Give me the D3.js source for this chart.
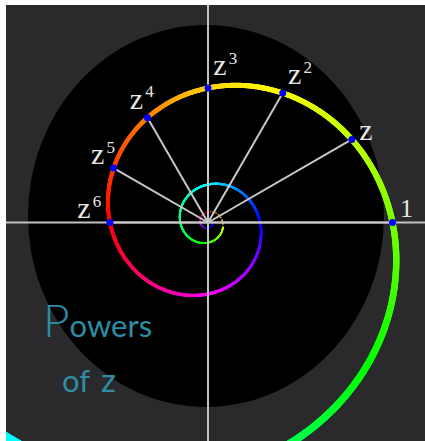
<!DOCTYPE html>
<html>
<head>
<meta charset="utf-8">
<script src="https://cdn.jsdelivr.net/npm/d3@7"></script>
<style>
  html, body { margin: 0; padding: 0; background: #fff; overflow: hidden; }
</style>
</head>
<body>
<script>
const W = 425, H = 441;

// z = 0.9 * e^(i * 30deg), powers z^0 .. z^6
const zModulus = 0.9;
const zAngleDeg = 30;
const powers = [0, 1, 2, 3, 4, 5, 6];
const baseLabels = ['1', 'z', 'z', 'z', 'z', 'z', 'z'];
const supLabels = ['', '', '2', '3', '4', '5', '6'];

// exponent range for the continuous spiral z^t, then a dotted tail
const spiralRange = [-4.8, 23.4];
const tailRange = [23.4, 36];
// colour along the spiral (exponent t -> hue)
const hueStopsT = [-4.5, -2.3, 0, 1, 2, 3, 4, 5, 6, 9, 11, 12, 15, 18, 21, 23, 27, 30, 33];
const hueStops  = [182, 138, 92, 75, 62, 50, 30, 14, 0, -58, -95, -120, -178, -212, -245, -280, -350, -420, -480];

const titleWords = ['P', 'owers', 'of', 'z'];

// label nudges (centre of glyph relative to the point), layout only
const labelOffset = [[14,-14],[14,-6],[12,-16],[12,-20],[-11,-16],[-16,-11],[-26,-11]];

const svg = d3.select('body').append('svg')
  .attr('width', W).attr('height', H);

svg.append('defs').append('clipPath').attr('id', 'panel')
  .append('rect').attr('x', 6).attr('y', 5).attr('width', W - 6).attr('height', H - 5);

const g = svg.append('g').attr('clip-path', 'url(#panel)');

g.append('rect')
  .attr('x', 6).attr('y', 5).attr('width', W - 6).attr('height', H - 5)
  .attr('fill', '#2a292c');

g.append('ellipse')
  .attr('cx', 206).attr('cy', 216).attr('rx', 178).attr('ry', 191)
  .attr('fill', '#000');

const unit = 184.5;
const x = d3.scaleLinear().domain([-1, 1]).range([208 - unit, 208 + unit]);
const y = d3.scaleLinear().domain([-1, 1]).range([222.5 + unit, 222.5 - unit]);

const hue = d3.scaleLinear().domain(hueStopsT).range(hueStops).clamp(true);
function colorAt(t) {
  let h = hue(t) % 360;
  if (h < 0) h += 360;
  return d3.hsl(h, 1, 0.5).toString();
}

function zpow(t) {
  const r = Math.pow(zModulus, t);
  const a = t * zAngleDeg * Math.PI / 180;
  return { r: r, re: r * Math.cos(a), im: r * Math.sin(a) };
}

// spiral as short coloured segments
const step = 0.02;
const ts = d3.range(spiralRange[0], spiralRange[1], step);
g.append('g').selectAll('line')
  .data(ts)
  .enter()
  .append('line')
  .attr('x1', d => x(zpow(d).re))
  .attr('y1', d => y(zpow(d).im))
  .attr('x2', d => x(zpow(d + step).re))
  .attr('y2', d => y(zpow(d + step).im))
  .attr('stroke', d => colorAt(d))
  .attr('stroke-width', d => 1.2 + 5 * zpow(d).r)
  .attr('stroke-linecap', 'round');

// sparse dots near the centre
g.append('g').selectAll('circle')
  .data(d3.range(tailRange[0], tailRange[1], 0.45))
  .enter()
  .append('circle')
  .attr('cx', d => x(zpow(d).re))
  .attr('cy', d => y(zpow(d).im))
  .attr('r', 0.9)
  .attr('fill', d => colorAt(d));

// axes
g.append('line')
  .attr('x1', 6).attr('x2', W).attr('y1', y(0)).attr('y2', y(0))
  .attr('stroke', '#c2c2c2').attr('stroke-width', 2);
g.append('line')
  .attr('x1', x(0)).attr('x2', x(0)).attr('y1', 5).attr('y2', H)
  .attr('stroke', '#c2c2c2').attr('stroke-width', 2);

// spokes
g.append('g').selectAll('line')
  .data(powers)
  .enter()
  .append('line')
  .attr('x1', x(0)).attr('y1', y(0))
  .attr('x2', d => x(zpow(d).re))
  .attr('y2', d => y(zpow(d).im))
  .attr('stroke', '#c8c8c8')
  .attr('stroke-width', 2);

// points
g.append('g').selectAll('circle')
  .data(powers)
  .enter()
  .append('circle')
  .attr('cx', d => x(zpow(d).re))
  .attr('cy', d => y(zpow(d).im))
  .attr('r', 3.5)
  .attr('fill', '#0000ff');

// labels
const lab = g.append('g')
  .attr('font-family', '"Liberation Serif", "DejaVu Serif", serif')
  .attr('fill', '#e6e6e6');

lab.selectAll('text.base')
  .data(powers)
  .enter()
  .append('text')
  .attr('class', 'base')
  .attr('text-anchor', 'middle')
  .attr('font-size', (d, i) => i === 0 ? 26 : 30)
  .attr('x', (d, i) => x(zpow(d).re) + labelOffset[i][0])
  .attr('y', (d, i) => y(zpow(d).im) + labelOffset[i][1] + (i === 0 ? 8.8 : 6.9))
  .text((d, i) => baseLabels[i]);

lab.selectAll('text.sup')
  .data(powers.filter((d, i) => supLabels[i] !== ''))
  .enter()
  .append('text')
  .attr('class', 'sup')
  .attr('text-anchor', 'middle')
  .attr('font-size', 17)
  .attr('x', d => x(zpow(d).re) + labelOffset[d][0] + 13)
  .attr('y', d => y(zpow(d).im) + labelOffset[d][1] - 10 + 5.8)
  .text(d => supLabels[d]);

// title
const title = g.append('g')
  .attr('font-family', 'Lato, "Open Sans", sans-serif')
  .attr('font-weight', 300)
  .attr('fill', '#2d8ea4');

const line1 = title.append('text').attr('x', 43).attr('y', 337);
line1.append('tspan').attr('font-size', 46).text(titleWords[0]);
line1.append('tspan').attr('font-size', 31).attr('font-weight', 400).text(titleWords[1]);

title.append('text').attr('x', 62).attr('y', 392).attr('font-size', 31).attr('font-weight', 400).text(titleWords[2]);
title.append('text').attr('x', 101).attr('y', 392).attr('font-size', 33).attr('font-weight', 400).text(titleWords[3]);
</script>
</body>
</html>
